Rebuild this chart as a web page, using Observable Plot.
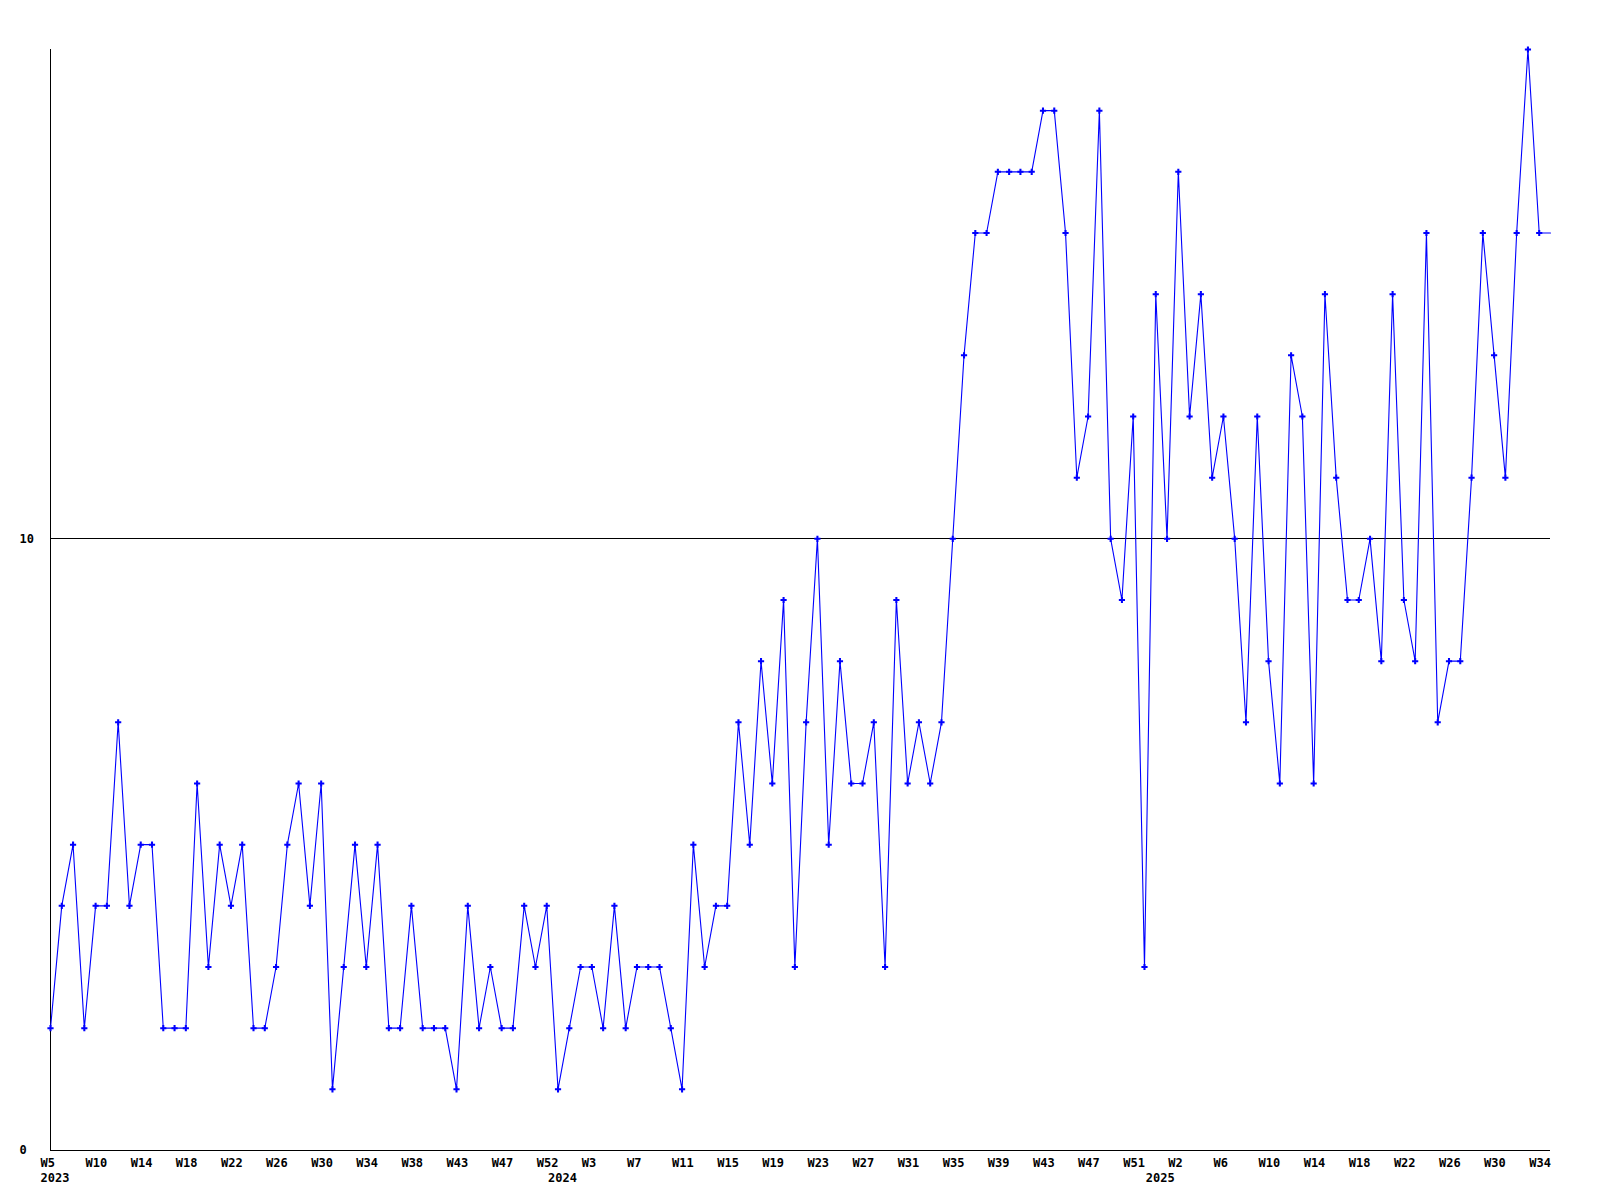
<!DOCTYPE html>
<html>
<head>
<meta charset="utf-8">
<script src="https://cdn.jsdelivr.net/npm/d3@7"></script>
<script src="https://cdn.jsdelivr.net/npm/@observablehq/plot@0.6"></script>
<style>
  html, body { margin: 0; padding: 0; background: #ffffff; }
  #chart svg { display: block; }
</style>
</head>
<body>
<div id="chart"></div>
<script>
// Weekly values, one per week starting at W5 2023
const values = [
  2,4,5,2,4,4,7,4,5,5,2,2,2,6,3,5,4,5,2,2,3,5,6,4,6,1,3,5,3,5,2,2,4,2,2,2,
  1,4,2,3,2,2,4,3,4,1,2,3,3,2,4,2,3,3,3,2,1,5,3,4,4,
  7,5,8,6,9,3,7,10,5,8,6,6,7,3,9,6,7,6,7,10,
  13,15,15,16,16,16,16,17,17,15,11,12,17,10,9,12,3,14,10,16,
  12,14,11,12,10,7,12,8,6,13,12,6,14,11,9,9,10,8,14,9,8,15,7,8,8,11,15,13,11,15,18,15,15
];

// Tick labels, one every 4th week
const weekTickLabels = [
  "W5","W10","W14","W18","W22","W26","W30","W34","W38","W43","W47","W52",
  "W3","W7","W11","W15","W19","W23","W27","W31","W35","W39","W43","W47","W51",
  "W2","W6","W10","W14","W18","W22","W26","W30","W34"
];
const tickEvery = 4;

// Year labels and the week index where each year starts
const yearLabels = ["2023", "2024", "2025"];
const yearStartWeek = [0, 45, 98];

const yTicks = [0, 10];
const yMax = 18;

const data = values.map((v, i) => ({i, v}));
const ticks = weekTickLabels.map((label, k) => ({i: k * tickEvery, label}));
const years = yearLabels.map((label, k) => ({i: yearStartWeek[k], label}));

const chart = Plot.plot({
  width: 1600,
  height: 1200,
  marginLeft: 50,
  marginRight: 50,
  marginTop: 49,
  marginBottom: 50,
  x: {domain: [0, values.length - 1], axis: null},
  y: {domain: [0, yMax], axis: null},
  style: {
    fontFamily: "'DejaVu Sans Mono', monospace",
    fontSize: "12px",
    fontWeight: "bold",
    background: "#ffffff",
    color: "#000000"
  },
  marks: [
    Plot.ruleY([10], {stroke: "#000000", strokeWidth: 1, shapeRendering: "crispEdges"}),
    Plot.ruleY([0], {stroke: "#000000", strokeWidth: 1, shapeRendering: "crispEdges"}),
    Plot.ruleX([0], {stroke: "#000000", strokeWidth: 1, shapeRendering: "crispEdges"}),
    Plot.line(data, {x: "i", y: "v", stroke: "#0000ff", strokeWidth: 1.1}),
    Plot.dot(data.slice(0, -1), {x: "i", y: "v", symbol: "cross", fill: "#0000ff", stroke: "none", r: 2.6}),
    Plot.text(yTicks, {x: 0, y: d => d, text: d => String(d), dx: -31, textAnchor: "start", fill: "#000000"}),
    Plot.text(ticks, {x: "i", y: 0, text: "label", dx: -10, dy: 13, textAnchor: "start", fill: "#000000"}),
    Plot.text(years, {x: "i", y: 0, text: "label", dx: -10, dy: 28, textAnchor: "start", fill: "#000000"})
  ]
});
document.getElementById("chart").appendChild(chart);
</script>
</body>
</html>
